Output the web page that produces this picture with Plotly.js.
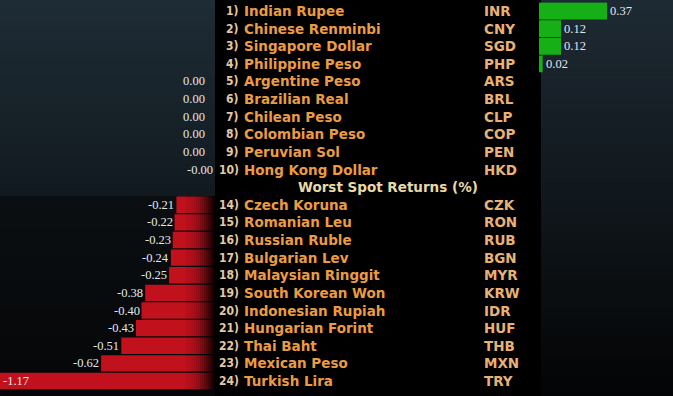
<!DOCTYPE html>
<html><head><meta charset="utf-8">
<script src="https://cdn.plot.ly/plotly-3.0.1.min.js"></script>
<style>html,body{margin:0;padding:0;background:#000;}#chart{width:673px;height:396px;}</style>
</head><body><div id="chart"></div>
<script>
// ---- data ----
const topHeader = "Best Spot Returns (%)";
const bestRanks = ["1)","2)","3)","4)","5)","6)","7)","8)","9)","10)"];
const bestNames = ["Indian Rupee","Chinese Renminbi","Singapore Dollar","Philippine Peso","Argentine Peso","Brazilian Real","Chilean Peso","Colombian Peso","Peruvian Sol","Hong Kong Dollar"];
const bestCodes = ["INR","CNY","SGD","PHP","ARS","BRL","CLP","COP","PEN","HKD"];
const bestValues = [0.37,0.12,0.12,0.02,0.00,0.00,0.00,0.00,0.00,-0.00];
const bestLabels = ["0.37","0.12","0.12","0.02","0.00","0.00","0.00","0.00","0.00","-0.00"];

const midHeader = "Worst Spot Returns (%)";
const worstRanks = ["14)","15)","16)","17)","18)","19)","20)","21)","22)","23)","24)"];
const worstNames = ["Czech Koruna","Romanian Leu","Russian Ruble","Bulgarian Lev","Malaysian Ringgit","South Korean Won","Indonesian Rupiah","Hungarian Forint","Thai Baht","Mexican Peso","Turkish Lira"];
const worstCodes = ["CZK","RON","RUB","BGN","MYR","KRW","IDR","HUF","THB","MXN","TRY"];
const worstValues = [-0.21,-0.22,-0.23,-0.24,-0.25,-0.38,-0.40,-0.43,-0.51,-0.62,-1.17];
const worstLabels = ["-0.21","-0.22","-0.23","-0.24","-0.25","-0.38","-0.40","-0.43","-0.51","-0.62","-1.17"];

// ---- layout constants ----
const W = 673, H = 396;
const leftEnd = 215/W, rightPanel = 541/W, rightStart = 539/W;
const leftRange = [-1.17, 0];
const rightRange = [0, 134/184];
const bestRows = bestValues.map((v,i)=>i);
const headerRow = bestValues.length;
const worstRows = worstValues.map((v,i)=>headerRow+1+i);
const nRows = headerRow + 1 + worstValues.length;

const valFont = {family:"Liberation Serif, DejaVu Serif, serif", size:12.5, color:"#e4e8ee"};
const nameFont = {family:"DejaVu Sans, sans-serif", size:13.5, color:"#eb9c42", weight:"bold"};
const codeFont = {family:"DejaVu Sans, sans-serif", size:13.5, color:"#e8b274", weight:"bold"};
const rankFont = {family:"DejaVu Sans Condensed, DejaVu Sans, sans-serif", size:12, color:"#e3c9a3", weight:"bold"};
const headFont = {family:"DejaVu Sans, sans-serif", size:13.5, color:"#e9d9a6", weight:"bold"};

// ---- background gradient helper ----
function lerp(a,b,t){return Math.round(a+(b-a)*t);}
function hex(c){return [parseInt(c.slice(1,3),16),parseInt(c.slice(3,5),16),parseInt(c.slice(5,7),16)];}
function vband(x0,x1,y0,y1,cTop,cBot,n){
  const a=hex(cTop), b=hex(cBot), out=[];
  for(let i=0;i<n;i++){
    const t=i/(n-1);
    const col=`rgb(${lerp(a[0],b[0],t)},${lerp(a[1],b[1],t)},${lerp(a[2],b[2],t)})`;
    const ya=y1-(y1-y0)*i/n, yb=y1-(y1-y0)*(i+1)/n - 0.002;
    out.push({type:'rect',xref:'paper',yref:'paper',x0:x0,x1:x1,y0:Math.max(yb,y0),y1:ya,fillcolor:col,line:{width:0},layer:'below'});
  }
  return out;
}
const splitY = 1 - 196/H;
let shapes = [];
shapes = shapes.concat(vband(0,leftEnd,splitY,1,'#1e2c35','#121a20',50));
shapes = shapes.concat(vband(0,leftEnd,0,splitY,'#0b0f12','#050607',30));
shapes = shapes.concat(vband(rightPanel,1,0,1,'#1e2a33','#030405',80));
// darkening at right end of red bars
for(let i=0;i<14;i++){
  const t=i/13;
  shapes.push({type:'rect',xref:'x',yref:'y',x0:-0.16+0.16/14*i,x1:-0.16+0.16/14*(i+1)+0.002,
    y0:headerRow+0.5,y1:nRows-0.5,fillcolor:'rgba(0,0,0,'+(0.05+0.88*t*t).toFixed(3)+')',line:{width:0},layer:'above'});
}

// ---- traces ----
const traces = [
  {type:'bar',orientation:'h',x:worstValues,y:worstRows,xaxis:'x',yaxis:'y',width:0.93,
   marker:{color:'#c0111c',line:{width:0}},hoverinfo:'skip'},
  {type:'bar',orientation:'h',x:bestValues.map(v=>Math.min(v,0)),y:bestRows,xaxis:'x',yaxis:'y',width:0.93,
   marker:{color:'#c0111c',line:{width:0}},hoverinfo:'skip'},
  {type:'bar',orientation:'h',x:bestValues.map(v=>Math.max(v,0)),y:bestRows,xaxis:'x2',yaxis:'y',width:0.96,
   marker:{color:'#16b016',line:{width:0}},hoverinfo:'skip'}
];

// ---- annotations ----
const ann = [];
function middle(rank,name,code,row){
  ann.push({xref:'paper',yref:'y',x:241/W,y:row,xanchor:'right',text:rank,showarrow:false,font:rankFont});
  ann.push({xref:'paper',yref:'y',x:242/W,y:row,xanchor:'left',text:name,showarrow:false,font:nameFont});
  ann.push({xref:'paper',yref:'y',x:482/W,y:row,xanchor:'left',text:code,showarrow:false,font:codeFont});
}
bestRows.forEach((r,i)=>middle(bestRanks[i],bestNames[i],bestCodes[i],r));
worstRows.forEach((r,i)=>middle(worstRanks[i],worstNames[i],worstCodes[i],r));
ann.push({xref:'paper',yref:'y',x:388/W,y:headerRow,xanchor:'center',text:midHeader,showarrow:false,font:headFont});
ann.push({xref:'paper',yref:'y',x:388/W,y:-1,xanchor:'center',text:topHeader,showarrow:false,font:headFont});

const leftScale = 215/(leftRange[1]-leftRange[0]);
function leftLabel(v,label,row){
  const room = (v-leftRange[0])*leftScale;
  if(room < 30){
    ann.push({xref:'x',yref:'y',x:v,y:row,xanchor:'left',xshift:1,text:label,showarrow:false,font:valFont});
  } else {
    ann.push({xref:'x',yref:'y',x:v,y:row,xanchor:'right',xshift:(v===0 && label[0]!=='-')?-8:0,text:label,showarrow:false,font:valFont});
  }
}
bestValues.forEach((v,i)=>{
  if(v>0) ann.push({xref:'x2',yref:'y',x:v,y:bestRows[i],xanchor:'left',xshift:1,text:bestLabels[i],showarrow:false,font:valFont});
  else leftLabel(v,bestLabels[i],bestRows[i]);
});
worstValues.forEach((v,i)=>leftLabel(v,worstLabels[i],worstRows[i]));

const layout = {
  width:W,height:H,margin:{l:0,r:0,t:0,b:0},
  paper_bgcolor:'#000',plot_bgcolor:'rgba(0,0,0,0)',
  showlegend:false,barmode:'overlay',
  xaxis:{domain:[0,leftEnd],range:leftRange,visible:false,fixedrange:true},
  xaxis2:{domain:[rightStart,1],range:rightRange,visible:false,fixedrange:true,anchor:'y'},
  yaxis:{domain:[1-389.8/H,1-2.2/H],range:[nRows-0.5,-0.5],visible:false,fixedrange:true,anchor:'x'},
  shapes:shapes,annotations:ann
};
Plotly.newPlot('chart',traces,layout,{staticPlot:true,displayModeBar:false});
</script></body></html>
